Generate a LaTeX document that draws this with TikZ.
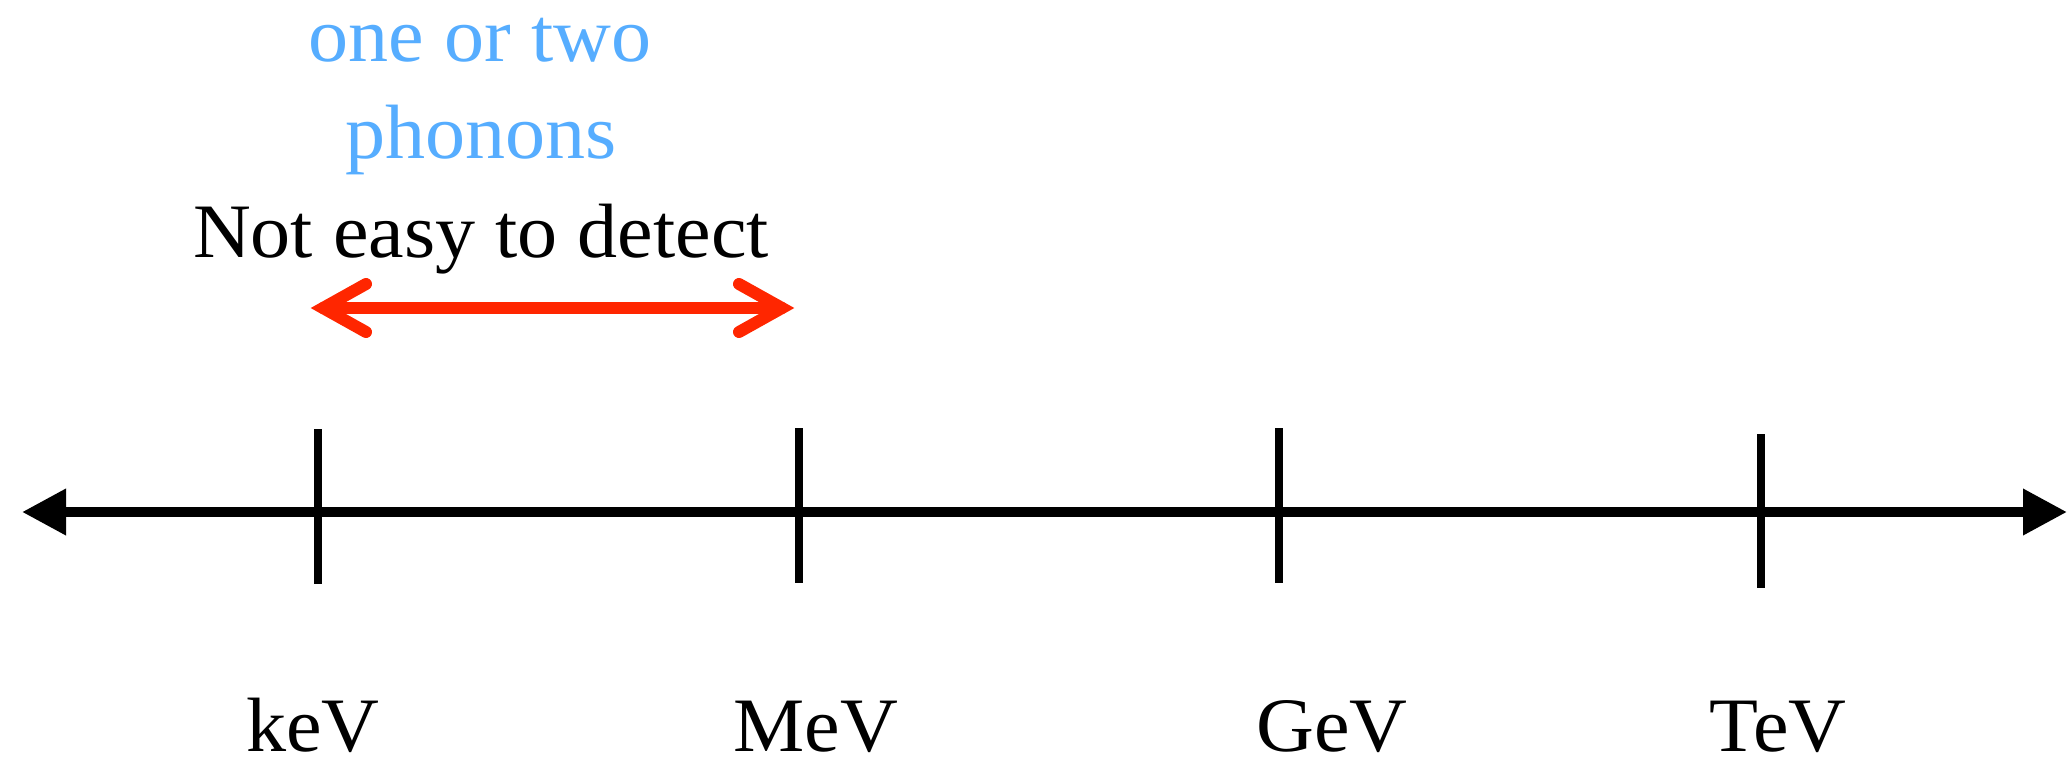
\documentclass[tikz,border=0pt]{standalone}
\usepackage{fontspec}
\setmainfont{Liberation Serif}[FakeStretch=1.04]
\usetikzlibrary{arrows.meta}
\definecolor{axred}{HTML}{FF2600}
\definecolor{axblue}{HTML}{56ADFF}
\begin{document}
\begin{tikzpicture}[x=0.5pt,y=-0.5pt,
  lbl/.style={anchor=base,inner sep=0pt,font=\fontsize{38.5}{42}\selectfont},
  tickline/.style={line width=4pt},
  axisline/.style={line width=5pt,{Triangle[length=22pt,width=22pt]}-{Triangle[length=22pt,width=22pt]}},
  redarrow/.style={line width=6pt,draw=axred,line cap=round,line join=miter}]
\useasboundingbox (0,0) rectangle (2067,757);
% axis
\coordinate (axL) at (22,512);
\coordinate (axR) at (2067,512);
\draw[axisline] (axL) -- (axR);
% ticks
\coordinate (t1a) at (318,429); \coordinate (t1b) at (318,584);
\coordinate (t2a) at (799,428); \coordinate (t2b) at (799,583);
\coordinate (t3a) at (1279,428); \coordinate (t3b) at (1279,583);
\coordinate (t4a) at (1761,434); \coordinate (t4b) at (1761,588);
\draw[tickline] (t1a) -- (t1b);
\draw[tickline] (t2a) -- (t2b);
\draw[tickline] (t3a) -- (t3b);
\draw[tickline] (t4a) -- (t4b);
% labels
\node[lbl] (kev) at (313,751) {keV};
\node[lbl] (mev) at (816,751) {MeV};
\node[lbl] (gev) at (1332,751) {GeV};
\node[lbl] (tev) at (1778,751) {TeV};
% red arrow
\coordinate (rL) at (323,308);
\coordinate (rR) at (782,308);
\coordinate (rL1) at (366,284); \coordinate (rL2) at (366,332);
\coordinate (rR1) at (739,284); \coordinate (rR2) at (739,332);
\draw[redarrow] (rL) -- (rR);
\draw[redarrow] (rL1) -- (rL) -- (rL2);
\draw[redarrow] (rR1) -- (rR) -- (rR2);
% texts
\node[lbl] (ned) at (481,257) {Not easy to detect};
\node[lbl,text=axblue] (one) at (480,61) {one or two};
\node[lbl,text=axblue] (pho) at (481,158) {phonons};
\end{tikzpicture}
\end{document}
